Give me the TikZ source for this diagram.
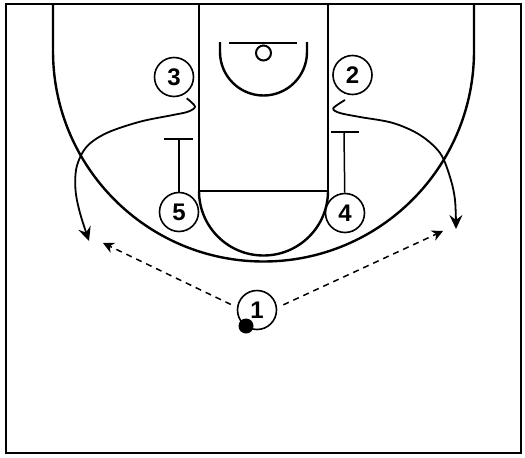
\documentclass[tikz,border=0pt]{standalone}
\usepackage{fontspec}
\setmainfont{Liberation Sans}
\usetikzlibrary{arrows.meta,calc}
\begin{document}
\begin{tikzpicture}[x=1pt,y=-1pt,
 court/.style={line width=2.4pt},
 player/.style={circle, draw, line width=1.6pt, fill=white, minimum size=39pt, inner sep=0pt, font=\fontsize{24}{24}\selectfont\bfseries},
 cut/.style={line width=1.8pt, -{Stealth[length=14pt,width=13pt,inset=5pt]}},
 pass/.style={line width=1.5pt, dash pattern=on 6pt off 5pt, -{Stealth[length=11pt,width=11pt,inset=3.5pt]}},
 screen/.style={line width=1.5pt},
 ballst/.style={circle, fill=black, minimum size=15pt, inner sep=0pt}]
\useasboundingbox (0,0) rectangle (525,458);
% court
\draw[court] (6,4) rectangle (521,453);
\draw[court] (199,4) -- (199,191) -- (328,191) -- (328,4);
\draw[court] (199,191) arc[start angle=180, end angle=360, radius=64.5pt];
\draw[court] (220,42) -- (220,52) arc[start angle=180, end angle=360, radius=43.5pt] -- (307,42);
\draw[court] (229,43) -- (297,43);
\draw[line width=2pt] (263.5,53) circle[radius=7.5pt];
\draw[court] (53,4) -- (53,51) arc[start angle=180, end angle=360, radius=210.5pt] -- (474,4);
% players
\node[player] (p3) at (174,77) {3};
\node[player] (p2) at (352.5,75) {2};
\node[player] (p5) at (179,212) {5};
\node[player] (p4) at (345,213) {4};
\node[player] (p1) at (257,310) {1};
\node[ballst] (ball) at (246,326) {};
% screens
\coordinate (s5) at (179,139);
\coordinate (s4) at (344,132);
\draw[screen] (p5) -- (s5);
\draw[screen] ($(s5)+(-15,0)$) -- ($(s5)+(14,0)$);
\draw[screen] (p4) -- (s4);
\draw[screen] ($(s4)+(-13,0)$) -- ($(s4)+(15,0)$);
% cuts
\coordinate (c3) at (186.7,98.3);
\coordinate (e3) at (89,241);
\coordinate (c2) at (345,100);
\coordinate (e2) at (456,229);
\draw[cut] plot[smooth, tension=0.55] coordinates {(c3) (195,106.5) (188,111.7) (173,115) (140,121.7) (106.7,133) (86.7,146.7) (76.7,166.7) (75.5,190) (80,213) (e3)};
\draw[cut] plot[smooth, tension=0.55] coordinates {(c2) (333.3,108.3) (340,113) (360,117) (393,123) (420,135) (440,153) (450,177) (455,200) (e2)};
% passes
\coordinate (t1) at (103,243);
\coordinate (t2) at (443,231);
\draw[pass, shorten <=29pt] ($(p1)+(0,7)$) -- (t1);
\draw[pass, shorten <=29pt] ($(p1)+(0,7)$) -- (t2);
\end{tikzpicture}
\end{document}
